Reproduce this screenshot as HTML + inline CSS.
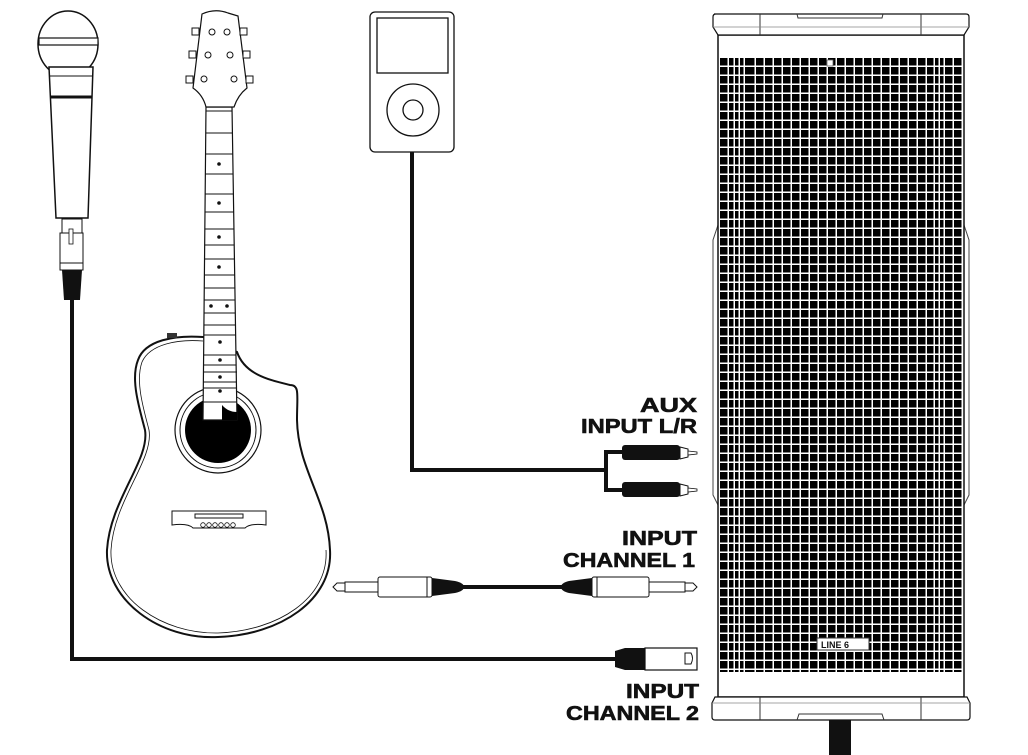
<!DOCTYPE html>
<html><head><meta charset="utf-8"><style>
html,body{margin:0;padding:0;background:#fff;}
svg{display:block;}
text{font-family:"Liberation Sans",sans-serif;font-weight:bold;font-size:20px;fill:#111;}
</style></head><body>
<svg width="1028" height="755" viewBox="0 0 1028 755" xmlns="http://www.w3.org/2000/svg">
<defs>
<pattern id="g" x="720" y="58" width="9" height="9" patternUnits="userSpaceOnUse">
<rect x="0" y="0" width="7.5" height="7.5" fill="#000"/>
</pattern>
<pattern id="g2" x="730" y="58" width="5" height="9" patternUnits="userSpaceOnUse">
<rect x="0" y="0" width="3.5" height="7.5" fill="#000"/>
</pattern>
</defs>

<!-- SPEAKER -->
<path d="M718 225 L713 240 L713 495 L718 505 Z" fill="#fff" stroke="#444" stroke-width="1"/>
<path d="M964 225 L969 240 L969 495 L964 505 Z" fill="#fff" stroke="#444" stroke-width="1"/>
<rect x="718" y="35" width="246" height="662" fill="#fff" stroke="#111" stroke-width="1.5"/>
<rect x="720" y="58" width="243" height="614" fill="url(#g)"/>
<rect x="730" y="58" width="18" height="614" fill="#fff"/>
<rect x="730" y="58" width="18" height="614" fill="url(#g2)"/>
<rect x="932" y="58" width="13" height="614" fill="#fff"/>
<rect x="932" y="58" width="13" height="614" fill="url(#g2)"/>
<rect x="827" y="60" width="6" height="6" fill="#fff" stroke="#666" stroke-width="0.8"/>
<!-- top cap -->
<path d="M714 14 L966 14 Q969 14 969 17 L969 27 L964 35 L718 35 L713 27 L713 17 Q713 14 716 14 Z" fill="#fff" stroke="#111" stroke-width="1.2"/>
<line x1="760" y1="14" x2="760" y2="35" stroke="#333"/>
<line x1="921" y1="14" x2="921" y2="35" stroke="#333"/>
<line x1="713" y1="27" x2="969" y2="27" stroke="#888" stroke-width="0.8"/>
<path d="M797 14 L798 18 L882 18 L883 14" fill="none" stroke="#333"/>
<!-- logo -->
<rect x="817" y="638" width="52" height="12" fill="#fff" stroke="#333"/>
<text x="821" y="648" style="font-size:9px">LINE 6</text>
<!-- bottom cap -->
<path d="M715 697 L967 697 L970 703 L970 717 Q970 720 967 720 L715 720 Q712 720 712 717 L712 703 Z" fill="#fff" stroke="#111" stroke-width="1.2"/>
<line x1="760" y1="697" x2="760" y2="720" stroke="#333"/>
<line x1="921" y1="697" x2="921" y2="720" stroke="#333"/>
<line x1="712" y1="703" x2="970" y2="703" stroke="#888" stroke-width="0.8"/>
<path d="M797 720 L799 714 L882 714 L884 720" fill="none" stroke="#333"/>
<rect x="829" y="720" width="22" height="35" fill="#111"/>

<!-- MICROPHONE -->
<ellipse cx="68" cy="44" rx="30" ry="33" fill="#fff" stroke="#111" stroke-width="1.5"/>
<rect x="39" y="38" width="59" height="7" fill="#fff" stroke="#111" stroke-width="1.2"/>
<path d="M49 67 L93 67 L88 218 L56 218 Z" fill="#fff" stroke="#111" stroke-width="1.5"/>
<line x1="50" y1="76" x2="92" y2="76" stroke="#111"/>
<line x1="50" y1="97" x2="92" y2="97" stroke="#111" stroke-width="3"/>
<rect x="62" y="219" width="20" height="14" fill="#fff" stroke="#111"/>
<rect x="60" y="233" width="23" height="37" fill="#fff" stroke="#111"/>
<line x1="60" y1="263" x2="83" y2="263" stroke="#111"/>
<rect x="69" y="229" width="4" height="15" fill="#fff" stroke="#111" stroke-width="0.8"/>
<path d="M62 270 L82 270 L80 300 L64 300 Z" fill="#111"/>
<!-- mic cable -->
<polyline points="72,300 72,659 617,659" fill="none" stroke="#111" stroke-width="4"/>
<!-- XLR plug -->
<path d="M615 651 L625 648 L645 648 L645 670 L625 670 L615 667 Z" fill="#111"/>
<rect x="645" y="648" width="52" height="22" fill="#fff" stroke="#111" stroke-width="1.2"/>
<path d="M691 653 L685 653 L685 664 L691 664 Q694 658 691 653 Z" fill="none" stroke="#111"/>

<!-- GUITAR -->
<path d="M203 337 C175 335 145 340 138 360 C130 380 140 410 145 430 C150 460 110 500 107 550 C105 600 160 640 218 637 C280 635 333 600 330 550 C328 500 298 470 297 420 C297 395 300 385 290 385 C270 380 245 375 237 352 Z" fill="#fff" stroke="#111" stroke-width="2"/>
<path d="M203 341 C178 339 150 344 142 362 C135 382 144 410 149 430 C154 460 114 500 111 550 C109 598 162 634 218 633 C278 631 329 598 326 550" fill="none" stroke="#111" stroke-width="0.8"/>
<rect x="167" y="333" width="10" height="5" fill="#333"/>
<circle cx="218" cy="430" r="43" fill="#fff" stroke="#111" stroke-width="1.2"/>
<circle cx="218" cy="430" r="38" fill="none" stroke="#111" stroke-width="1"/>
<circle cx="218" cy="430" r="33" fill="#000"/>
<!-- neck -->
<path d="M206 107 L232 107 L237 420 L203 420 Z" fill="#fff" stroke="#111" stroke-width="1.2"/>
<path d="M222 405 Q228 412 237 412 L237 420 L222 420 Z" fill="#000"/>
<g stroke="#111" stroke-width="1">
<line x1="206" y1="111" x2="232" y2="111"/><line x1="206" y1="133" x2="233" y2="133"/>
<line x1="206" y1="154" x2="233" y2="154"/><line x1="205" y1="174" x2="233" y2="174"/>
<line x1="205" y1="194" x2="234" y2="194"/><line x1="205" y1="212" x2="234" y2="212"/>
<line x1="205" y1="229" x2="234" y2="229"/><line x1="205" y1="245" x2="234" y2="245"/>
<line x1="205" y1="259" x2="235" y2="259"/><line x1="204" y1="275" x2="235" y2="275"/>
<line x1="204" y1="288" x2="235" y2="288"/><line x1="204" y1="300" x2="235" y2="300"/>
<line x1="204" y1="313" x2="235" y2="313"/><line x1="204" y1="325" x2="236" y2="325"/>
<line x1="204" y1="335" x2="236" y2="335"/><line x1="204" y1="355" x2="236" y2="355"/>
<line x1="204" y1="365" x2="236" y2="365"/><line x1="203" y1="372" x2="237" y2="372"/>
<line x1="203" y1="382" x2="237" y2="382"/><line x1="203" y1="388" x2="237" y2="388"/>
<line x1="203" y1="402" x2="237" y2="402"/>
</g>
<g fill="#111">
<circle cx="219" cy="164" r="1.8"/><circle cx="219" cy="203" r="1.8"/><circle cx="219" cy="237" r="1.8"/>
<circle cx="219" cy="267" r="1.8"/><circle cx="211" cy="306" r="1.8"/><circle cx="227" cy="306" r="1.8"/>
<circle cx="220" cy="342" r="1.8"/><circle cx="220" cy="360" r="1.8"/><circle cx="220" cy="377" r="1.8"/><circle cx="220" cy="391" r="1.8"/>
</g>
<!-- headstock -->
<path d="M202 14 Q215 8 228 13 L238 16 L247 88 Q238 95 234 107 L206 107 Q203 95 193 88 Z" fill="#fff" stroke="#111" stroke-width="1.2"/>
<g fill="#fff" stroke="#111" stroke-width="1">
<circle cx="212" cy="32" r="3"/><circle cx="227" cy="32" r="3"/>
<circle cx="208" cy="55" r="3"/><circle cx="230" cy="55" r="3"/>
<circle cx="204" cy="79" r="3"/><circle cx="234" cy="79" r="3"/>
<rect x="192" y="28" width="7" height="7"/><rect x="240" y="28" width="7" height="7"/>
<rect x="189" y="51" width="7" height="7"/><rect x="243" y="51" width="7" height="7"/>
<rect x="186" y="76" width="7" height="7"/><rect x="246" y="76" width="7" height="7"/>
</g>
<!-- bridge -->
<path d="M172 511 L266 511 L266 525 Q250 523 245 528 L193 528 Q188 523 172 525 Z" fill="#fff" stroke="#111"/>
<rect x="195" y="514" width="48" height="4" fill="#fff" stroke="#111" stroke-width="1"/>
<g fill="#fff" stroke="#111" stroke-width="0.8">
<circle cx="203" cy="525" r="2.3"/><circle cx="209" cy="525" r="2.3"/><circle cx="215" cy="525" r="2.3"/>
<circle cx="221" cy="525" r="2.3"/><circle cx="227" cy="525" r="2.3"/><circle cx="233" cy="525" r="2.3"/>
</g>

<!-- IPOD -->
<rect x="370" y="12" width="84" height="140" rx="5" fill="#fff" stroke="#111" stroke-width="1.3"/>
<rect x="377" y="18" width="71" height="55" fill="#fff" stroke="#111" stroke-width="1.3"/>
<circle cx="413" cy="110" r="26" fill="#fff" stroke="#111" stroke-width="1.3"/>
<circle cx="413" cy="110" r="10" fill="#fff" stroke="#111" stroke-width="1.3"/>
<!-- aux cable -->
<polyline points="412,152 412,470 606,470" fill="none" stroke="#111" stroke-width="4"/>
<polyline points="625,452 606,452 606,490 625,490" fill="none" stroke="#111" stroke-width="4"/>
<rect x="622" y="445" width="58" height="15" rx="3" fill="#111"/>
<rect x="622" y="482" width="58" height="15" rx="3" fill="#111"/>
<path d="M680 447 L688 449 L688 457 L680 459 Z" fill="#fff" stroke="#111"/>
<path d="M680 484 L688 486 L688 494 L680 496 Z" fill="#fff" stroke="#111"/>
<path d="M688 451 L697 452 L697 454 L688 455 Z" fill="#fff" stroke="#111" stroke-width="0.8"/>
<path d="M688 488 L697 489 L697 491 L688 492 Z" fill="#fff" stroke="#111" stroke-width="0.8"/>

<!-- JACK CABLE -->
<line x1="462" y1="587" x2="570" y2="587" stroke="#111" stroke-width="4"/>
<path d="M333 587 L337 583 L345 583 L345 591 L337 591 Z" fill="#fff" stroke="#111"/>
<rect x="345" y="582" width="33" height="10" fill="#fff" stroke="#111"/>
<rect x="378" y="577" width="54" height="20" rx="2" fill="#fff" stroke="#111"/>
<line x1="427" y1="577" x2="427" y2="597" stroke="#111"/>
<path d="M432 578 L455 581 Q464 583 464 587 Q464 591 455 593 L432 596 Z" fill="#111"/>
<path d="M592 578 L569 581 Q561 583 561 587 Q561 591 569 593 L592 596 Z" fill="#111"/>
<rect x="592" y="577" width="57" height="20" rx="2" fill="#fff" stroke="#111"/>
<line x1="597" y1="577" x2="597" y2="597" stroke="#111"/>
<rect x="649" y="582" width="36" height="10" fill="#fff" stroke="#111"/>
<path d="M685 583 L693 583 L697 587 L693 591 L685 591 Z" fill="#fff" stroke="#111"/>

<!-- LABELS -->
<g stroke="#111" stroke-width="0.6">
<text x="640" y="412" textLength="57" lengthAdjust="spacingAndGlyphs">AUX</text>
<text x="581" y="433" textLength="116" lengthAdjust="spacingAndGlyphs">INPUT L/R</text>
<text x="622" y="545" textLength="75" lengthAdjust="spacingAndGlyphs">INPUT</text>
<text x="563" y="567" textLength="132" lengthAdjust="spacingAndGlyphs">CHANNEL 1</text>
<text x="626" y="698" textLength="73" lengthAdjust="spacingAndGlyphs">INPUT</text>
<text x="566" y="720" textLength="133" lengthAdjust="spacingAndGlyphs">CHANNEL 2</text>
</g>
</svg>
</body></html>
